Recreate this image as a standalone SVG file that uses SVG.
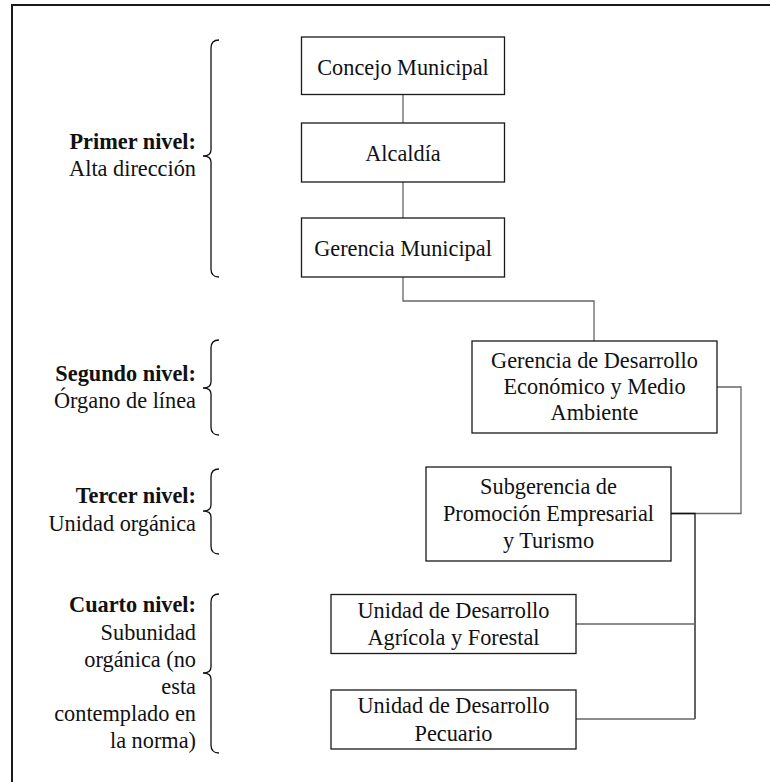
<svg xmlns="http://www.w3.org/2000/svg" width="770" height="782" viewBox="0 0 770 782">
  <style>
    .box { fill: #ffffff; stroke: #1a1a1a; stroke-width: 1.3; }
    .lbl { font-family: "Liberation Serif", "Times New Roman", serif; font-size: 22.3px; fill: #111111; text-anchor: middle; }
    .lvl { font-family: "Liberation Serif", "Times New Roman", serif; font-size: 22.3px; fill: #111111; text-anchor: end; }
    .lvl .b { font-weight: bold; }
    .conn { fill: none; stroke: #666666; stroke-width: 1.3; }
    .conn-dark { fill: none; stroke: #111111; stroke-width: 1.3; }
    .brace { fill: none; stroke: #111111; stroke-width: 1.3; }
    .frame { fill: none; stroke: #1a1a1a; stroke-width: 2; }
  </style>
  <rect x="0" y="0" width="770" height="782" fill="#ffffff"/>

  <!-- frame (top and left edges) -->
  <path class="frame" d="M12,782 L12,5 L770,5"/>

  <!-- connectors -->
  <g id="connectors">
    <path class="conn" d="M403,94.5 L403,123"/>
    <path class="conn" d="M403,182 L403,218"/>
    <path class="conn" d="M403,277 L403,301 L594,301 L594,341"/>
    <path class="conn" d="M717,387 L741,387 L741,513.5 L671,513.5"/>
    <path class="conn-dark" d="M671,513.5 L695,513.5 L695,719"/>
    <path class="conn" d="M695,719 L576,719"/>
    <path class="conn" d="M695,624 L576,624"/>
  </g>

  <!-- level braces -->
  <g id="braces">
    <path class="brace" d="M219,40 Q211,40 211,48 L211,150 Q211,156 203,156 Q211,156 211,162 L211,269 Q211,277 219,277"/>
    <path class="brace" d="M219,340 Q211,340 211,348 L211,382 Q211,388 203,388 Q211,388 211,394 L211,427 Q211,435 219,435"/>
    <path class="brace" d="M219,469 Q211,469 211,477 L211,505 Q211,511 203,511 Q211,511 211,517 L211,546 Q211,554 219,554"/>
    <path class="brace" d="M219,594 Q211,594 211,602 L211,667 Q211,673 203,673 Q211,673 211,679 L211,745 Q211,753 219,753"/>
  </g>

  <!-- level labels -->
  <g id="level-1">
    <text class="lvl" x="196" y="149"><tspan class="b">Primer nivel:</tspan></text>
    <text class="lvl" x="196" y="176">Alta dirección</text>
  </g>
  <g id="level-2">
    <text class="lvl" x="196" y="381"><tspan class="b">Segundo nivel:</tspan></text>
    <text class="lvl" x="196" y="408">Órgano de línea</text>
  </g>
  <g id="level-3">
    <text class="lvl" x="196" y="503"><tspan class="b">Tercer nivel:</tspan></text>
    <text class="lvl" x="196" y="531">Unidad orgánica</text>
  </g>
  <g id="level-4">
    <text class="lvl" x="196" y="612"><tspan class="b">Cuarto nivel:</tspan></text>
    <text class="lvl" x="196" y="640">Subunidad</text>
    <text class="lvl" x="196" y="667">orgánica (no</text>
    <text class="lvl" x="196" y="694">esta</text>
    <text class="lvl" x="196" y="721">contemplado en</text>
    <text class="lvl" x="196" y="748">la norma)</text>
  </g>

  <!-- organisation boxes -->
  <g id="concejo-municipal">
    <rect class="box" x="301.5" y="37" width="203" height="57.5"/>
    <text class="lbl" x="403" y="75">Concejo Municipal</text>
  </g>
  <g id="alcaldia">
    <rect class="box" x="301.5" y="123" width="203" height="59"/>
    <text class="lbl" x="403" y="161">Alcaldía</text>
  </g>
  <g id="gerencia-municipal">
    <rect class="box" x="301.5" y="218" width="203" height="59"/>
    <text class="lbl" x="403" y="256">Gerencia Municipal</text>
  </g>
  <g id="gerencia-desarrollo">
    <rect class="box" x="472" y="341" width="245" height="92"/>
    <text class="lbl" x="594.5" y="368">Gerencia de Desarrollo</text>
    <text class="lbl" x="594.5" y="394">Económico y Medio</text>
    <text class="lbl" x="594.5" y="420">Ambiente</text>
  </g>
  <g id="subgerencia-promocion">
    <rect class="box" x="426" y="467" width="245" height="94"/>
    <text class="lbl" x="548.5" y="494">Subgerencia de</text>
    <text class="lbl" x="548.5" y="521">Promoción Empresarial</text>
    <text class="lbl" x="548.5" y="548">y Turismo</text>
  </g>
  <g id="unidad-agricola">
    <rect class="box" x="331" y="594.5" width="245" height="59"/>
    <text class="lbl" x="453.5" y="618">Unidad de Desarrollo</text>
    <text class="lbl" x="453.5" y="645">Agrícola y Forestal</text>
  </g>
  <g id="unidad-pecuario">
    <rect class="box" x="331" y="690" width="245" height="59"/>
    <text class="lbl" x="453.5" y="713">Unidad de Desarrollo</text>
    <text class="lbl" x="453.5" y="741">Pecuario</text>
  </g>
</svg>
